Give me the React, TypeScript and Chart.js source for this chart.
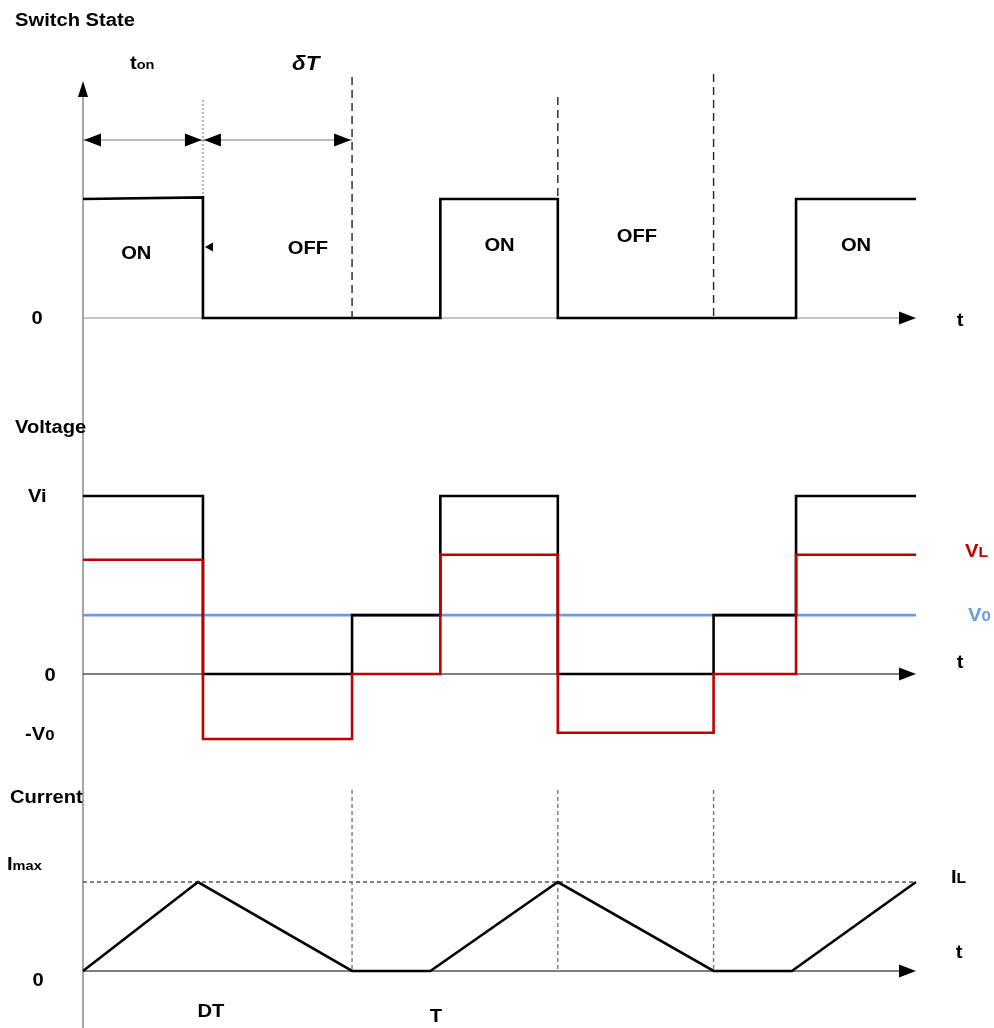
import React, { useEffect, useRef } from "react";
import { Chart, registerables } from "chart.js";
Chart.register(...registerables);

const W = 994;
const H = 1028;

// ---- data (time in arbitrary units 0..100, levels normalised per panel) ----
const timeRange = [0, 100];
const switchTimes = [0, 14.4, 14.4, 42.9, 42.9, 57.0, 57.0, 85.6, 85.6, 100];
const switchState = [1.0, 1.014, 0, 0, 1, 1, 0, 0, 1, 1];

const voltTimes = [0, 14.4, 14.4, 32.3, 32.3, 42.9, 42.9, 57.0, 57.0, 75.7, 75.7, 85.6, 85.6, 100];
const voltSwitch = [1, 1, 0, 0, 0.331, 0.331, 1, 1, 0, 0, 0.331, 0.331, 1, 1];
const voltInductor = [0.642, 0.642, -0.365, -0.365, 0, 0, 0.67, 0.67, -0.33, -0.33, 0, 0, 0.67, 0.67];
const voltOutTimes = [0, 100];
const voltOut = [0.331, 0.331];

const currTimes = [0, 13.8, 32.3, 41.7, 57.0, 75.7, 85.1, 100];
const currValues = [0, 1, 0, 0, 1, 0, 0, 1];

const onTime = 14.4;
const periodMarks = [32.3, 57.0, 75.7];
const onLabelTimes = [6.4, 50.0, 92.8];
const offLabelTimes = [27.0, 66.5];

// ---- layout ----
const PLOT_LEFT = 83;
const PLOT_RIGHT = 916;
const panels = {
  sw: { zero: 318, one: 199 },
  v: { zero: 674, one: 496 },
  i: { zero: 971, one: 882 },
};
const axisRange = (p: { zero: number; one: number }) => {
  const u = p.zero - p.one;
  return { min: -(H - p.zero) / u, max: p.zero / u };
};

const FONT = '"Liberation Sans", Arial, sans-serif';
const SX = 1.12;
const RED = "#c00000";
const BLUE = "#6c9be0";

type Part = { t: string; s: number };

function rich(
  ctx: CanvasRenderingContext2D,
  parts: Part[],
  x: number,
  base: number,
  align: "left" | "center",
  color: string,
  italic = false
) {
  ctx.save();
  ctx.fillStyle = color;
  ctx.textBaseline = "alphabetic";
  ctx.textAlign = "left";
  const fonts = parts.map((p) => `${italic ? "italic " : ""}bold ${p.s}px ${FONT}`);
  let total = 0;
  const widths = parts.map((p, k) => {
    ctx.font = fonts[k];
    const w = ctx.measureText(p.t).width * SX;
    total += w;
    return w;
  });
  let cx = align === "center" ? x - total / 2 : x;
  parts.forEach((p, k) => {
    ctx.save();
    ctx.font = fonts[k];
    ctx.translate(cx, base);
    ctx.scale(SX, 1);
    ctx.fillText(p.t, 0, 0);
    ctx.restore();
    cx += widths[k];
  });
  ctx.restore();
}

function seg(
  ctx: CanvasRenderingContext2D,
  x1: number,
  y1: number,
  x2: number,
  y2: number,
  color: string,
  lw: number,
  dash: number[] = []
) {
  ctx.save();
  ctx.strokeStyle = color;
  ctx.lineWidth = lw;
  ctx.setLineDash(dash);
  ctx.beginPath();
  ctx.moveTo(x1, y1);
  ctx.lineTo(x2, y2);
  ctx.stroke();
  ctx.restore();
}

function tri(ctx: CanvasRenderingContext2D, pts: number[][], color = "#000") {
  ctx.save();
  ctx.fillStyle = color;
  ctx.beginPath();
  ctx.moveTo(pts[0][0], pts[0][1]);
  ctx.lineTo(pts[1][0], pts[1][1]);
  ctx.lineTo(pts[2][0], pts[2][1]);
  ctx.closePath();
  ctx.fill();
  ctx.restore();
}

const arrowR = (ctx: CanvasRenderingContext2D, x: number, y: number, len = 17, h = 6.5) =>
  tri(ctx, [[x, y], [x - len, y - h], [x - len, y + h]]);
const arrowL = (ctx: CanvasRenderingContext2D, x: number, y: number, len = 17, h = 6.5) =>
  tri(ctx, [[x, y], [x + len, y - h], [x + len, y + h]]);

const annot = {
  id: "annot",
  beforeDatasetsDraw(chart: any) {
    const ctx: CanvasRenderingContext2D = chart.ctx;
    const X = (t: number) => chart.scales.x.getPixelForValue(t);
    const ySw = chart.scales.ySw;
    const yV = chart.scales.yV;
    const yI = chart.scales.yI;
    const x0 = X(timeRange[0]);
    const xe = X(timeRange[1]);

    // main vertical axis
    seg(ctx, x0, 95, x0, H, "#777", 1.3);
    tri(ctx, [[x0, 81], [x0 - 5, 97], [x0 + 5, 97]]);

    // horizontal axes
    const s0 = ySw.getPixelForValue(0);
    seg(ctx, x0, s0, xe - 12, s0, "#888", 1.2);
    arrowR(ctx, xe, s0);
    const v0 = yV.getPixelForValue(0);
    seg(ctx, x0, v0, xe - 12, v0, "#000", 1.2);
    arrowR(ctx, xe, v0);
    const i0 = yI.getPixelForValue(0);
    seg(ctx, x0, i0, xe - 12, i0, "#000", 1.2);
    arrowR(ctx, xe, i0);

    // switch panel guides
    const xOn = X(onTime);
    seg(ctx, xOn, 100, xOn, ySw.getPixelForValue(1.014), "#777", 1, [2, 2]);
    seg(ctx, X(periodMarks[0]), 77, X(periodMarks[0]), s0, "#222", 1.4, [8, 5]);
    seg(ctx, X(periodMarks[1]), 97, X(periodMarks[1]), s0, "#222", 1.4, [8, 5]);
    seg(ctx, X(periodMarks[2]), 74, X(periodMarks[2]), s0, "#222", 1.4, [8, 5]);

    // dimension arrows
    const ya = 140;
    seg(ctx, x0, ya, X(periodMarks[0]), ya, "#777", 1);
    arrowL(ctx, x0 + 1, ya);
    arrowR(ctx, xOn - 1, ya);
    arrowL(ctx, xOn + 1, ya);
    arrowR(ctx, X(periodMarks[0]) - 1, ya);
    // small arrowhead on falling edge
    arrowL(ctx, xOn + 2, 247, 8, 4.5);

    // current panel guides
    const iMax = yI.getPixelForValue(1);
    seg(ctx, x0, iMax, xe, iMax, "#000", 1, [4, 3]);
    periodMarks.forEach((t) => seg(ctx, X(t), 790, X(t), i0, "#777", 1.4, [4, 3]));
  },
  afterDatasetsDraw(chart: any) {
    const ctx: CanvasRenderingContext2D = chart.ctx;
    const X = (t: number) => chart.scales.x.getPixelForValue(t);
    const B = 18;
    const S = 13;

    // switch panel
    rich(ctx, [{ t: "Switch State", s: B }], 15, 26, "left", "#000");
    rich(ctx, [{ t: "t", s: B }, { t: "on", s: S }], 130, 69, "left", "#000");
    rich(ctx, [{ t: "δT", s: 20 }], 292, 70, "left", "#000", true);
    rich(ctx, [{ t: "ON", s: B }], X(onLabelTimes[0]), 259, "center", "#000");
    rich(ctx, [{ t: "ON", s: B }], X(onLabelTimes[1]), 251, "center", "#000");
    rich(ctx, [{ t: "ON", s: B }], X(onLabelTimes[2]), 251, "center", "#000");
    rich(ctx, [{ t: "OFF", s: B }], X(offLabelTimes[0]), 254, "center", "#000");
    rich(ctx, [{ t: "OFF", s: B }], X(offLabelTimes[1]), 242, "center", "#000");
    rich(ctx, [{ t: "0", s: B }], 37, 324, "center", "#000");
    rich(ctx, [{ t: "t", s: B }], 960, 326, "center", "#000");

    // voltage panel
    rich(ctx, [{ t: "Voltage", s: B }], 15, 433, "left", "#000");
    rich(ctx, [{ t: "Vi", s: B }], 28, 502, "left", "#000");
    rich(ctx, [{ t: "0", s: B }], 50, 681, "center", "#000");
    rich(ctx, [{ t: "-V", s: B }, { t: "0", s: 15 }], 25, 740, "left", "#000");
    rich(ctx, [{ t: "V", s: B }, { t: "L", s: 14 }], 965, 557, "left", RED);
    rich(ctx, [{ t: "V", s: B }, { t: "0", s: 15 }], 968, 621, "left", BLUE);
    rich(ctx, [{ t: "t", s: B }], 960, 668, "center", "#000");

    // current panel
    rich(ctx, [{ t: "Current", s: B }], 10, 803, "left", "#000");
    rich(ctx, [{ t: "I", s: B }, { t: "max", s: S }], 7, 870, "left", "#000");
    rich(ctx, [{ t: "0", s: B }], 38, 986, "center", "#000");
    rich(ctx, [{ t: "DT", s: B }], 211, 1017, "center", "#000");
    rich(ctx, [{ t: "T", s: B }], 436, 1022, "center", "#000");
    rich(ctx, [{ t: "I", s: B }, { t: "L", s: 14 }], 951, 883, "left", "#000");
    rich(ctx, [{ t: "t", s: B }], 959, 958, "center", "#000");
  },
};

const pts = (xs: number[], ys: number[]) => xs.map((x, k) => ({ x, y: ys[k] }));

export default function App() {
  const ref = useRef<HTMLCanvasElement>(null);
  useEffect(() => {
    const common = {
      pointRadius: 0,
      tension: 0,
      fill: false,
      clip: false as const,
      borderJoinStyle: "miter" as const,
      borderCapStyle: "butt" as const,
    };
    const chart = new Chart(ref.current!, {
      type: "line",
      data: {
        datasets: [
          { ...common, label: "Switch state", data: pts(switchTimes, switchState), yAxisID: "ySw", borderColor: "#000", borderWidth: 2.6, order: 1 },
          { ...common, label: "VL", data: pts(voltTimes, voltInductor), yAxisID: "yV", borderColor: RED, borderWidth: 2.6, order: 0 },
          { ...common, label: "Vsw", data: pts(voltTimes, voltSwitch), yAxisID: "yV", borderColor: "#000", borderWidth: 2.6, order: 1 },
          { ...common, label: "V0", data: pts(voltOutTimes, voltOut), yAxisID: "yV", borderColor: BLUE, borderWidth: 2.6, order: 2 },
          { ...common, label: "IL", data: pts(currTimes, currValues), yAxisID: "yI", borderColor: "#000", borderWidth: 2.6, order: 1 },
        ],
      },
      options: {
        responsive: false,
        animation: false,
        devicePixelRatio: 1,
        layout: { padding: { left: PLOT_LEFT, right: W - PLOT_RIGHT, top: 0, bottom: 0 } },
        plugins: { legend: { display: false }, tooltip: { enabled: false }, title: { display: false } },
        events: [],
        scales: {
          x: { type: "linear", min: timeRange[0], max: timeRange[1], display: false },
          ySw: { type: "linear", ...axisRange(panels.sw), display: false },
          yV: { type: "linear", ...axisRange(panels.v), display: false },
          yI: { type: "linear", ...axisRange(panels.i), display: false },
        },
      },
      plugins: [annot],
    } as any);
    return () => chart.destroy();
  }, []);
  return (
    <div style={{ position: "absolute", left: 0, top: 0, width: W, height: H, background: "#fff" }}>
      <canvas ref={ref} width={W} height={H} style={{ display: "block" }} />
    </div>
  );
}
